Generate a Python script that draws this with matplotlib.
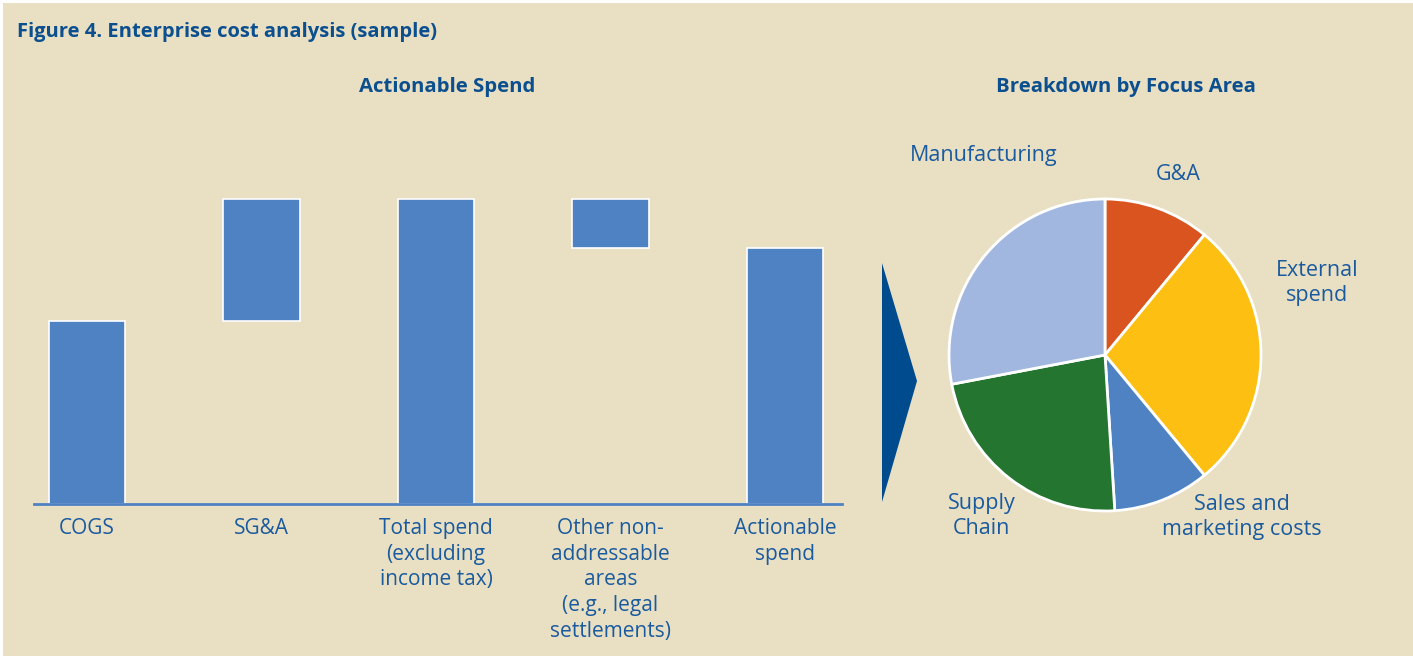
import matplotlib.pyplot as plt
from matplotlib.patches import Polygon, Rectangle

plt.rcParams['font.family'] = ['Open Sans', 'DejaVu Sans']

# waterfall data (arbitrary units, total = 100)
categories = ['COGS', 'SG&A', 'Total spend\n(excluding\nincome tax)',
              'Other non-\naddressable\nareas\n(e.g., legal\nsettlements)',
              'Actionable\nspend']
bar_heights = [60, 40, 100, 16, 84]
bar_bottoms = [0, 60, 0, 84, 0]

# pie data (share of actionable spend, %)
pie_labels = ['G&A', 'External\nspend', 'Sales and\nmarketing costs',
              'Supply\nChain', 'Manufacturing']
pie_values = [11, 28, 10, 23, 28]
pie_colors = ['#d9541f', '#fcbf12', '#4f82c3', '#237530', '#a1b7e0']
# label anchor points in pie-radius units
pie_label_pos = [(0.47, 1.16), (1.36, 0.46), (0.88, -1.04),
                 (-0.79, -1.03), (-0.78, 1.28)]

BG = '#e9e0c4'
BAR = '#4f82c3'
HEAD = '#0b4f8f'
TXT = '#1a5a9e'

W, H = 1413, 656
fig = plt.figure(figsize=(W / 100, H / 100), dpi=100)
fig.patch.set_facecolor('white')
fig.add_artist(Rectangle((3 / W, 0), 1, 1 - 3 / H, transform=fig.transFigure,
                         facecolor=BG, edgecolor='none', zorder=0))


def px(x0, y0, x1, y1):
    # pixel box (top-left origin) -> figure fraction rect
    return [x0 / W, 1 - y1 / H, (x1 - x0) / W, (y1 - y0) / H]


fig.text(17 / W, 1 - 32 / H, 'Figure 4. Enterprise cost analysis (sample)',
         color=HEAD, fontsize=14.5, fontweight='bold', va='center', ha='left')
fig.text(447 / W, 1 - 87 / H, 'Actionable Spend', color=HEAD,
         fontsize=14.7, fontweight='bold', ha='center', va='center')
fig.text(1126 / W, 1 - 87 / H, 'Breakdown by Focus Area', color=HEAD,
         fontsize=14.7, fontweight='bold', ha='center', va='center')

# --- waterfall ---
ax = fig.add_axes(px(34, 199, 842, 504))
ax.set_facecolor('none')
x = list(range(len(categories)))
ax.bar(x, bar_heights, bottom=bar_bottoms, width=0.44, color=BAR,
       edgecolor='white', linewidth=1.2, clip_on=False, zorder=2)
ax.set_xlim(-0.304, 4.327)
ax.set_ylim(0, 100)
for s in ['top', 'right', 'left']:
    ax.spines[s].set_visible(False)
ax.spines['bottom'].set_color(BAR)
ax.spines['bottom'].set_linewidth(2)
ax.spines['bottom'].set_zorder(3)
ax.set_yticks([])
ax.set_xticks(x)
ax.set_xticklabels(categories, color=TXT, fontsize=15, linespacing=1.3,
                   va='top')
ax.tick_params(axis='x', length=0, pad=10)

# --- arrow ---
fig.add_artist(Polygon([(882 / W, 1 - 263 / H), (882 / W, 1 - 502 / H),
                        (917 / W, 1 - 381 / H)], closed=True,
                       transform=fig.transFigure, facecolor='#004b8d',
                       edgecolor='none'))

# --- pie ---
pax = fig.add_axes(px(949, 199, 1261, 511))
pax.pie(pie_values, colors=pie_colors, startangle=90, counterclock=False,
        radius=1, wedgeprops=dict(edgecolor='white', linewidth=2))
pax.set_xlim(-1.0, 1.0)
pax.set_ylim(-1.0, 1.0)
pax.set_aspect('equal')
pax.axis('off')
for lab, (lx, ly) in zip(pie_labels, pie_label_pos):
    pax.text(lx, ly, lab, color=TXT, fontsize=15.5, ha='center', va='center',
             linespacing=1.25, clip_on=False)

fig.savefig('out.png', dpi=100, facecolor=fig.get_facecolor())
